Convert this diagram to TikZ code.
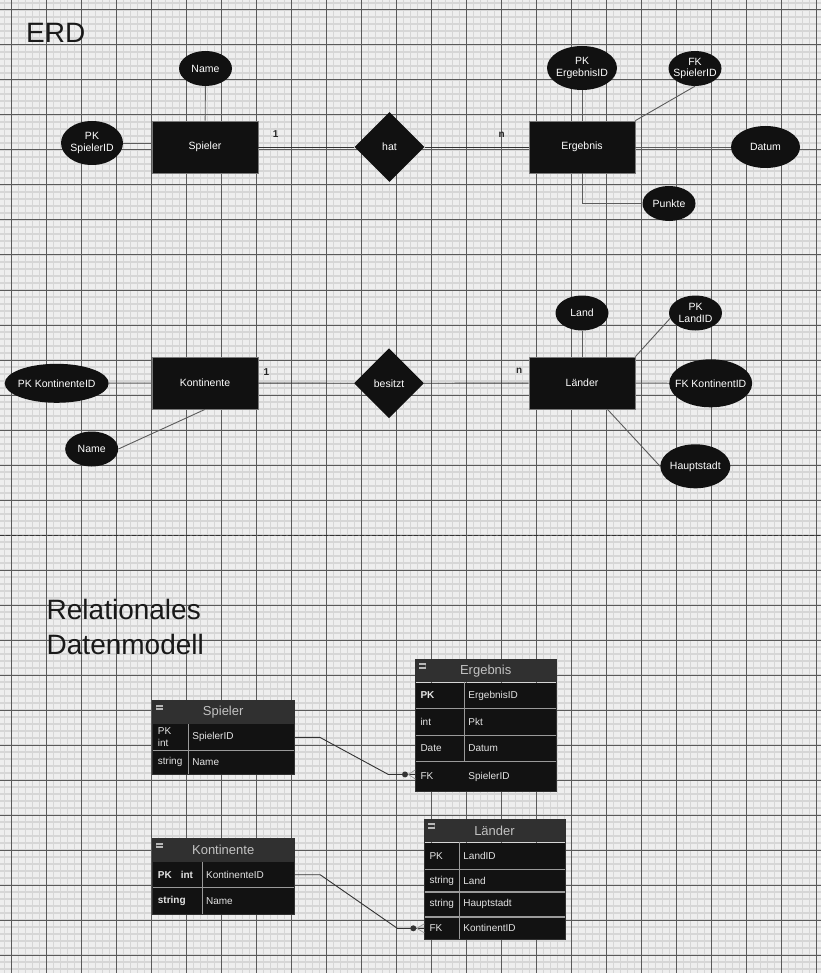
\documentclass[tikz,border=0pt]{standalone}
\usepackage{fontspec}
\setmainfont{Liberation Sans}
\usetikzlibrary{shapes.geometric,positioning}

\definecolor{paper}{HTML}{EEEEEE}
\definecolor{finegrid}{HTML}{D6D6D6}
\definecolor{coarsegrid}{HTML}{5A5A5A}
\definecolor{erdfill}{HTML}{111111}
\definecolor{erdedge}{HTML}{7A7A7A}
\definecolor{linkcol}{HTML}{333333}
\definecolor{headfill}{HTML}{303030}
\definecolor{rowfill}{HTML}{121212}
\definecolor{rowtext}{HTML}{E4E4E4}
\definecolor{sepcol}{HTML}{9A9A9A}

\begin{document}
\begin{tikzpicture}[x=1pt,y=-1pt]

\tikzset{
    every node/.style={font=\fontsize{10.5}{12}\selectfont},
    fine line/.style={draw=finegrid, line width=1.5pt},
    coarse line/.style={draw=coarsegrid, line width=1pt},
    title/.style={font=\fontsize{28}{35}\selectfont, text=black!90, inner sep=0pt, align=left, anchor=north west},
    entity/.style={rectangle, fill=erdfill, draw=erdedge, line width=0.8pt, text=white, minimum width=106pt, minimum height=52pt, inner sep=0pt},
    attr/.style={ellipse, fill=erdfill, inner sep=0pt},
    attr text/.style={text=white, align=center, inner sep=0pt, font=\fontsize{10.5}{11.5}\selectfont},
    relship/.style={diamond, fill=erdfill, text=white, minimum width=70pt, minimum height=70pt, inner sep=0pt},
    card/.style={font=\bfseries\fontsize{10}{12}\selectfont, inner sep=0pt, text=black!85},
    link/.style={draw=linkcol, line width=0.9pt},
    attr link/.style={draw=linkcol!80!white, line width=0.9pt},
    thead/.style={rectangle, fill=headfill, text=rowtext!85!black, font=\fontsize{13}{15}\selectfont, minimum width=#1, minimum height=23pt, inner sep=0pt, anchor=north west},
    tkey/.style={rectangle, fill=rowfill, text=rowtext, font=\fontsize{10}{12}\selectfont, align=left, inner xsep=5pt, inner ysep=0pt, text width=#1},
    tval/.style={rectangle, fill=rowfill, text=rowtext, font=\fontsize{10}{12}\selectfont, align=left, inner xsep=3.5pt, inner ysep=0pt, text width=#1},
    tsep/.style={draw=sepcol, line width=1.2pt},
    tframe/.style={draw=headfill, line width=1pt},
    fold/.style={rectangle, fill=black!28, minimum width=6.5pt, minimum height=5.5pt, inner sep=0pt,
        path picture={\draw[headfill, line width=1.2pt] (path picture bounding box.west) -- (path picture bounding box.east);}},
    crow/.style={draw=sepcol, line width=0.8pt}
}

% background grid
\useasboundingbox (0,0) rectangle (821,973);
\fill[paper] (0,0) rectangle (821,973);
\foreach \i in {0,...,116} \draw[fine line] ({4.7+7*\i},0) -- ({4.7+7*\i},973);
\foreach \j in {0,...,138} \draw[fine line] (0,{3+7*\j}) -- (821,{3+7*\j});
\foreach \i in {0,...,23} \draw[coarse line] ({11.7+35*\i},0) -- ({11.7+35*\i},973);
\foreach \j in {0,...,27} \draw[coarse line] (0,{10+35*\j}) -- (821,{10+35*\j});

\node[title] (erd title) at (26,22.7) {ERD};

% Spieler -- hat -- Ergebnis
\node[entity] (spieler) at (205,147) {Spieler};
\node[attr, minimum width=53pt, minimum height=35pt, label={[attr text]center:Name}] (name spieler) at (205.5,68.5) {};
\node[attr, minimum width=62pt, minimum height=44pt, label={[attr text]center:{PK\\SpielerID}}] (pk spieler) at (92,143) {};
\node[relship] (hat) at (389.5,147) {hat};
\node[entity] (ergebnis) at (582,147) {Ergebnis};
\node[attr, minimum width=70pt, minimum height=44pt, label={[attr text]center:{PK\\ErgebnisID}}] (pk ergebnis) at (582,68) {};
\node[attr, minimum width=53pt, minimum height=35pt, label={[attr text]center:{FK\\SpielerID}}] (fk spieler) at (695,68.5) {};
\node[attr, minimum width=69pt, minimum height=42pt, label={[attr text]center:Datum}] (datum) at (765.5,147) {};
\node[attr, minimum width=53pt, minimum height=35pt, label={[attr text]center:Punkte}] (punkte) at (669,203.5) {};

\draw[attr link] (pk spieler.east) -- (pk spieler.east -| spieler.west);
\draw[attr link] (name spieler) -- (spieler);
\draw[link] (spieler) -- node[card, pos=0.18, above=9pt] {1} (hat);
\draw[link] (hat) -- node[card, pos=0.74, above=9.5pt] {n} (ergebnis);
\draw[attr link] (pk ergebnis) -- (ergebnis);
\draw[attr link] (ergebnis.north east) -- (fk spieler.south);
\draw[attr link] (ergebnis) -- (datum);
\draw[attr link] (ergebnis.south) |- (punkte);

% Kontinente -- besitzt -- Laender
\node[entity] (kontinente) at (205,383) {Kontinente};
\node[attr, minimum width=104pt, minimum height=39pt, label={[attr text]center:PK KontinenteID}] (pk kont) at (56.7,383.3) {};
\node[attr, minimum width=53pt, minimum height=35pt, label={[attr text]center:Name}] (name kont) at (91.7,449) {};
\node[relship] (besitzt) at (389,383.3) {besitzt};
\node[entity] (laender) at (582,383) {Länder};
\node[attr, minimum width=53pt, minimum height=35pt, label={[attr text]center:Land}] (land) at (582,313) {};
\node[attr, minimum width=53pt, minimum height=35pt, label={[attr text]center:{PK\\LandID}}] (pk land) at (695.5,313) {};
\node[attr, minimum width=83pt, minimum height=48pt, label={[attr text]center:FK KontinentID}] (fk kont) at (710.7,383.3) {};
\node[attr, minimum width=70pt, minimum height=44pt, label={[attr text]center:Hauptstadt}] (hauptstadt) at (695.3,466.3) {};

\draw[attr link] (pk kont) -- (kontinente);
\draw[attr link] (name kont.east) -- (kontinente.south);
\draw[link] (kontinente) -- node[card, pos=0.083, above=7.5pt] {1} (besitzt);
\draw[link] (besitzt) -- node[card, pos=0.91, above=9.5pt] {n} (laender);
\draw[attr link] (land) -- (laender);
\draw[attr link] (laender.north east) -- (pk land.192);
\draw[attr link] (laender) -- (fk kont);
\draw[attr link] (laender.-46.5) -- (hauptstadt.west);

\draw[draw=linkcol, line width=1pt, dash pattern=on 4pt off 2pt] (0,535.7) -- (821,535.7);

\node[title] (rdm title) at (46.5,599.3) {Relationales\\Datenmodell};

% table Spieler
\node[thead=140.6pt] (spieler head) at (152.7,700.7) {Spieler};
\node[tkey=25.6pt, minimum height=26pt, anchor=north west] (spieler k1) at (spieler head.south west) {PK\\int};
\node[tval=98pt, minimum height=26pt, right=0pt of spieler k1] (spieler v1) {SpielerID};
\node[tkey=25.6pt, minimum height=23.4pt, below=0pt of spieler k1] (spieler k2) {string};
\node[tval=98pt, minimum height=23.4pt, right=0pt of spieler k2] (spieler v2) {Name};
\draw[tsep] (spieler k1.south west) -- (spieler v1.south east);
\draw[tsep] (spieler k1.north east) -- (spieler k2.south east);
\draw[tframe] (spieler head.north west) rectangle (spieler v2.south east);
\node[fold] at ([xshift=7pt,yshift=-7pt]spieler head.north west) {};

% table Ergebnis
\node[thead=140.4pt] (ergebnis head) at (415.3,659) {Ergebnis};
\node[tkey=39pt, minimum height=25.7pt, anchor=north west] (ergebnis k1) at (ergebnis head.south west) {\textbf{PK}};
\node[tval=84.4pt, minimum height=25.7pt, right=0pt of ergebnis k1] (ergebnis v1) {ErgebnisID};
\node[tkey=39pt, minimum height=26.3pt, below=0pt of ergebnis k1] (ergebnis k2) {int};
\node[tval=84.4pt, minimum height=26.3pt, right=0pt of ergebnis k2] (ergebnis v2) {Pkt};
\node[tkey=39pt, minimum height=26pt, below=0pt of ergebnis k2] (ergebnis k3) {Date};
\node[tval=84.4pt, minimum height=26pt, right=0pt of ergebnis k3] (ergebnis v3) {Datum};
\node[tkey=39pt, minimum height=29.3pt, below=0pt of ergebnis k3] (ergebnis k4) {FK};
\node[tval=84.4pt, minimum height=29.3pt, right=0pt of ergebnis k4] (ergebnis v4) {SpielerID};
\foreach \r in {1,2,3} \draw[tsep] (ergebnis k\r.south west) -- (ergebnis v\r.south east);
\draw[tsep] (ergebnis k1.north east) -- (ergebnis k3.south east);
\draw[tframe] (ergebnis head.north west) rectangle (ergebnis v4.south east);
\node[fold] at ([xshift=7pt,yshift=-7pt]ergebnis head.north west) {};

% table Kontinente
\node[thead=140.6pt] (kont head) at (152.7,838.3) {Kontinente};
\node[tkey=39.3pt, minimum height=25.6pt, anchor=north west] (kont k1) at (kont head.south west) {\textbf{PK}\hspace{9pt}\textbf{int}};
\node[tval=84.3pt, minimum height=25.6pt, right=0pt of kont k1] (kont v1) {KontinenteID};
\node[tkey=39.3pt, minimum height=26pt, below=0pt of kont k1] (kont k2) {\textbf{string}};
\node[tval=84.3pt, minimum height=26pt, right=0pt of kont k2] (kont v2) {Name};
\draw[tsep] (kont k1.south west) -- (kont v1.south east);
\draw[tsep] (kont k1.north east) -- (kont k2.south east);
\draw[tframe] (kont head.north west) rectangle (kont v2.south east);
\node[fold] at ([xshift=7pt,yshift=-7pt]kont head.north west) {};

% table Laender
\node[thead=140pt] (laender head) at (424.3,819) {Länder};
\node[tkey=25pt, minimum height=26.3pt, anchor=north west] (laender k1) at (laender head.south west) {PK};
\node[tval=98pt, minimum height=26.3pt, right=0pt of laender k1] (laender v1) {LandID};
\node[tkey=25pt, minimum height=22.4pt, below=0pt of laender k1] (laender k2) {string};
\node[tval=98pt, minimum height=22.4pt, right=0pt of laender k2] (laender v2) {Land};
\node[tkey=25pt, minimum height=24.6pt, below=0pt of laender k2] (laender k3) {string};
\node[tval=98pt, minimum height=24.6pt, right=0pt of laender k3] (laender v3) {Hauptstadt};
\node[tkey=25pt, minimum height=22.4pt, below=0pt of laender k3] (laender k4) {FK};
\node[tval=98pt, minimum height=22.4pt, right=0pt of laender k4] (laender v4) {KontinentID};
\foreach \r in {1,2,3} \draw[tsep] (laender k\r.south west) -- (laender v\r.south east);
\draw[tsep] (laender k1.north east) -- (laender k4.south east);
\draw[tframe] (laender head.north west) rectangle (laender v4.south east);
\node[fold] at ([xshift=7pt,yshift=-7pt]laender head.north west) {};

% foreign keys
\coordinate (fk spieler end) at ([yshift=2pt]ergebnis k4.west);
\draw[link] (spieler v1.east) -- ++(25.7,0) -- ([xshift=-27pt]fk spieler end) -- (fk spieler end);
\fill[linkcol] ([xshift=-10.3pt]fk spieler end) circle (3pt);
\draw[crow] ([xshift=-7pt]fk spieler end) -- ++(7,-4.5) ([xshift=-7pt]fk spieler end) -- ++(7,4.5);

\coordinate (fk kont end) at (laender k4.west);
\draw[link] (kont v1.east) -- ++(26,0) -- ([xshift=-27pt]fk kont end) -- (fk kont end);
\fill[linkcol] ([xshift=-11pt]fk kont end) circle (3pt);
\draw[crow] ([xshift=-7.5pt]fk kont end) -- ++(7.5,-4.5) ([xshift=-7.5pt]fk kont end) -- ++(7.5,4.5);

\end{tikzpicture}
\end{document}
